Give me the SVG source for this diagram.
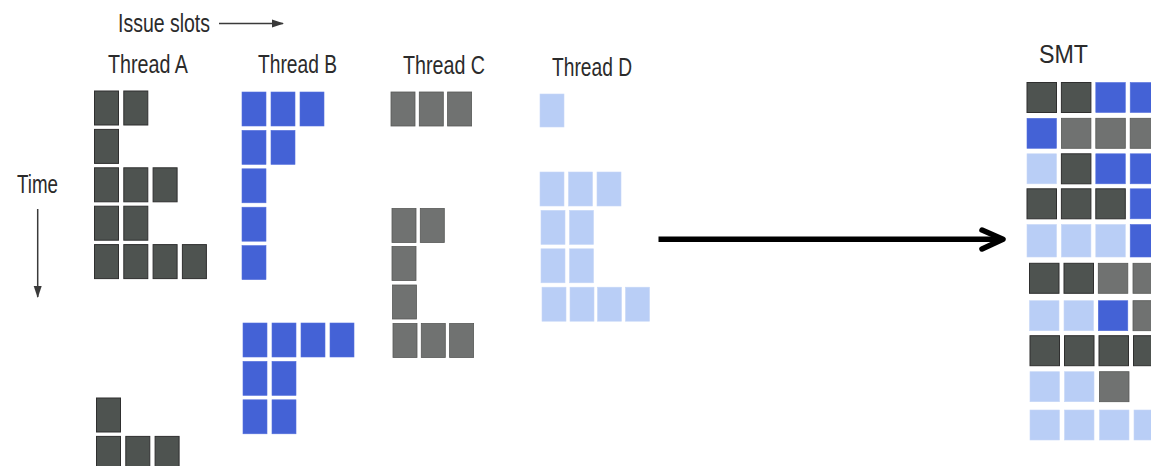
<svg xmlns="http://www.w3.org/2000/svg" width="1151" height="466" viewBox="0 0 1151 466">
  <defs>
    <style>
      .lbl { font-family: "Liberation Sans", Arial, sans-serif; font-size: 25px; fill: #2b2b2b; }
      .a { fill: #4e5350; stroke: #2f2f2f; stroke-width: 1; }
      .b { fill: #4462d6; stroke: #5570dc; stroke-width: 0.6; }
      .c { fill: #707271; stroke: #575957; stroke-width: 0.8; }
      .d { fill: #b9cef6; stroke: #c6d7f7; stroke-width: 0.6; }
      .axis { stroke: #3a3a3a; stroke-width: 1.5; fill: none; }
    </style>
    <marker id="tip" viewBox="0 0 12 10" refX="11" refY="5" markerWidth="12" markerHeight="10" markerUnits="userSpaceOnUse" orient="auto">
      <path d="M0,1 L12,5 L0,9 Z" fill="#3a3a3a"/>
    </marker>
  </defs>
  <rect width="1151" height="466" fill="#ffffff"/>

  <!-- axis labels -->
  <g id="axes">
    <text class="lbl" x="118" y="32" textLength="92" lengthAdjust="spacingAndGlyphs">Issue slots</text>
    <line class="axis" x1="219" y1="23.5" x2="283" y2="23.5" marker-end="url(#tip)"/>
    <text class="lbl" x="17" y="193" textLength="41" lengthAdjust="spacingAndGlyphs">Time</text>
    <line class="axis" x1="37.7" y1="209" x2="37.7" y2="297" marker-end="url(#tip)"/>
  </g>

  <!-- Thread A: column pitch 29.3, row pitch 38.4 -->
  <g id="thread-a">
    <text class="lbl" x="108" y="73" textLength="80" lengthAdjust="spacingAndGlyphs">Thread A</text>
    <rect class="a" x="94.5" y="91" width="24" height="34"/>
    <rect class="a" x="123.8" y="91" width="24" height="34"/>
    <rect class="a" x="94.5" y="129.4" width="24" height="34"/>
    <rect class="a" x="94.5" y="167.8" width="24" height="34"/>
    <rect class="a" x="123.8" y="167.8" width="24" height="34"/>
    <rect class="a" x="153.1" y="167.8" width="24" height="34"/>
    <rect class="a" x="94.5" y="206.2" width="24" height="34"/>
    <rect class="a" x="123.8" y="206.2" width="24" height="34"/>
    <rect class="a" x="94.5" y="244.6" width="24" height="34"/>
    <rect class="a" x="123.8" y="244.6" width="24" height="34"/>
    <rect class="a" x="153.1" y="244.6" width="24" height="34"/>
    <rect class="a" x="182.4" y="244.6" width="24" height="34"/>
    <rect class="a" x="96.5" y="398" width="24" height="34"/>
    <rect class="a" x="96.5" y="436.4" width="24" height="34"/>
    <rect class="a" x="125.8" y="436.4" width="24" height="34"/>
    <rect class="a" x="155.1" y="436.4" width="24" height="34"/>
  </g>

  <!-- Thread B -->
  <g id="thread-b">
    <text class="lbl" x="258" y="73" textLength="79" lengthAdjust="spacingAndGlyphs">Thread B</text>
    <rect class="b" x="242" y="92" width="24" height="34"/>
    <rect class="b" x="271" y="92" width="24" height="34"/>
    <rect class="b" x="300" y="92" width="24" height="34"/>
    <rect class="b" x="242" y="130.4" width="24" height="34"/>
    <rect class="b" x="271" y="130.4" width="24" height="34"/>
    <rect class="b" x="242" y="168.8" width="24" height="34"/>
    <rect class="b" x="242" y="207.2" width="24" height="34"/>
    <rect class="b" x="242" y="245.6" width="24" height="34"/>
    <rect class="b" x="243" y="323" width="24" height="34"/>
    <rect class="b" x="272" y="323" width="24" height="34"/>
    <rect class="b" x="301" y="323" width="24" height="34"/>
    <rect class="b" x="330" y="323" width="24" height="34"/>
    <rect class="b" x="243" y="361.4" width="24" height="34"/>
    <rect class="b" x="272" y="361.4" width="24" height="34"/>
    <rect class="b" x="243" y="399.8" width="24" height="34"/>
    <rect class="b" x="272" y="399.8" width="24" height="34"/>
  </g>

  <!-- Thread C -->
  <g id="thread-c">
    <text class="lbl" x="403" y="74" textLength="82" lengthAdjust="spacingAndGlyphs">Thread C</text>
    <rect class="c" x="391" y="92" width="24" height="34"/>
    <rect class="c" x="419.3" y="92" width="24" height="34"/>
    <rect class="c" x="447.6" y="92" width="24" height="34"/>
    <rect class="c" x="392" y="208.5" width="24" height="34"/>
    <rect class="c" x="420.3" y="208.5" width="24" height="34"/>
    <rect class="c" x="392" y="246.5" width="24" height="34"/>
    <rect class="c" x="392.5" y="285" width="24" height="34"/>
    <rect class="c" x="393" y="323.5" width="24" height="34"/>
    <rect class="c" x="421.3" y="323.5" width="24" height="34"/>
    <rect class="c" x="449.6" y="323.5" width="24" height="34"/>
  </g>

  <!-- Thread D -->
  <g id="thread-d">
    <text class="lbl" x="552" y="76" textLength="80" lengthAdjust="spacingAndGlyphs">Thread D</text>
    <rect class="d" x="540" y="94" width="24" height="33"/>
    <rect class="d" x="540" y="172" width="24" height="34"/>
    <rect class="d" x="568.5" y="172" width="24" height="34"/>
    <rect class="d" x="597" y="172" width="24" height="34"/>
    <rect class="d" x="541" y="210.4" width="24" height="34"/>
    <rect class="d" x="569.5" y="210.4" width="24" height="34"/>
    <rect class="d" x="541" y="248.8" width="24" height="34"/>
    <rect class="d" x="569.5" y="248.8" width="24" height="34"/>
    <rect class="d" x="542" y="287.2" width="24" height="34"/>
    <rect class="d" x="570" y="287.2" width="24" height="34"/>
    <rect class="d" x="597.5" y="287.2" width="24" height="34"/>
    <rect class="d" x="625.5" y="287.2" width="24" height="34"/>
  </g>

  <!-- SMT: merged issue slots, column pitch 34.4 -->
  <g id="smt">
    <text class="lbl" x="1039" y="63" textLength="49" lengthAdjust="spacingAndGlyphs">SMT</text>
    <!-- row 0 -->
    <rect class="a" x="1027" y="82.5" width="29.5" height="30"/>
    <rect class="a" x="1061.4" y="82.5" width="29.5" height="30"/>
    <rect class="b" x="1095.8" y="82.5" width="29.5" height="30"/>
    <rect class="b" x="1130.2" y="82.5" width="29.5" height="30"/>
    <!-- row 1 -->
    <rect class="b" x="1027" y="118.3" width="29.5" height="30"/>
    <rect class="c" x="1061.4" y="118.3" width="29.5" height="30"/>
    <rect class="c" x="1095.8" y="118.3" width="29.5" height="30"/>
    <rect class="c" x="1130.2" y="118.3" width="29.5" height="30"/>
    <!-- row 2 -->
    <rect class="d" x="1027" y="153.8" width="29.5" height="30"/>
    <rect class="a" x="1061.4" y="153.8" width="29.5" height="30"/>
    <rect class="b" x="1095.8" y="153.8" width="29.5" height="30"/>
    <rect class="b" x="1130.2" y="153.8" width="29.5" height="30"/>
    <!-- row 3 -->
    <rect class="a" x="1027" y="188.8" width="29.5" height="30"/>
    <rect class="a" x="1061.4" y="188.8" width="29.5" height="30"/>
    <rect class="a" x="1095.8" y="188.8" width="29.5" height="30"/>
    <rect class="b" x="1130.2" y="188.8" width="29.5" height="30"/>
    <!-- row 4 -->
    <rect class="d" x="1027" y="224.5" width="29.5" height="32.5"/>
    <rect class="d" x="1061.4" y="224.5" width="29.5" height="32.5"/>
    <rect class="d" x="1095.8" y="224.5" width="29.5" height="32.5"/>
    <rect class="b" x="1130.2" y="224.5" width="29.5" height="32.5"/>
    <!-- row 5 -->
    <rect class="a" x="1029.5" y="263.3" width="29.5" height="30"/>
    <rect class="a" x="1064" y="263.3" width="29.5" height="30"/>
    <rect class="c" x="1098.3" y="263.3" width="29.5" height="30"/>
    <rect class="c" x="1133" y="263.3" width="29.5" height="30"/>
    <!-- row 6 -->
    <rect class="d" x="1029.5" y="300.7" width="29.5" height="30"/>
    <rect class="d" x="1064" y="300.7" width="29.5" height="30"/>
    <rect class="b" x="1098.3" y="300.7" width="29.5" height="30"/>
    <rect class="c" x="1133" y="300.7" width="29.5" height="30"/>
    <!-- row 7 -->
    <rect class="a" x="1030" y="335.7" width="29.5" height="30"/>
    <rect class="a" x="1064.5" y="335.7" width="29.5" height="30"/>
    <rect class="a" x="1099" y="335.7" width="29.5" height="30"/>
    <rect class="a" x="1133.5" y="335.7" width="29.5" height="30"/>
    <!-- row 8 -->
    <rect class="d" x="1030" y="371.7" width="29.5" height="30"/>
    <rect class="d" x="1064.5" y="371.7" width="29.5" height="30"/>
    <rect class="c" x="1099.5" y="371.7" width="29.5" height="30"/>
    <!-- row 9 -->
    <rect class="d" x="1030" y="410" width="29.5" height="30"/>
    <rect class="d" x="1064.5" y="410" width="29.5" height="30"/>
    <rect class="d" x="1099.5" y="410" width="29.5" height="30"/>
    <rect class="d" x="1134" y="410" width="29.5" height="30"/>
  </g>

  <!-- connector: threads merged into SMT -->
  <g id="connectors" fill="none" stroke="#000000" stroke-width="5.5" stroke-linecap="round" stroke-linejoin="round">
    <line x1="658.5" y1="239.3" x2="1002" y2="239.3" stroke-linecap="butt"/>
    <polyline points="982,230 1003,239.3 982,249"/>
  </g>
</svg>
